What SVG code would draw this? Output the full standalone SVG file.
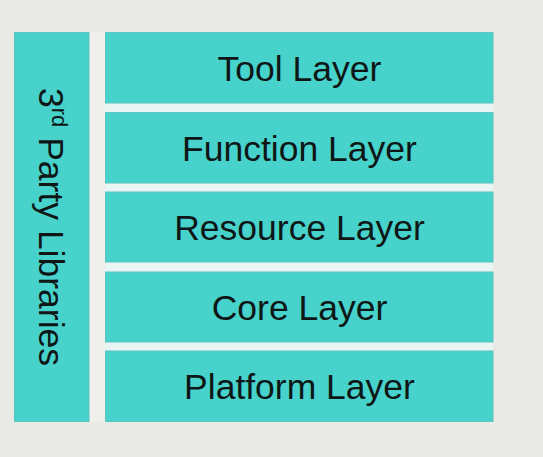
<svg xmlns="http://www.w3.org/2000/svg" width="543" height="457" viewBox="0 0 543 457">
  <style>
    .box { fill: #47d2cb; stroke: #5cc4be; stroke-width: 1; }
    .lbl { font-family: "Liberation Sans", Arial, sans-serif; font-size: 35.5px; fill: #0e1616; text-anchor: middle; }
  </style>
  <rect x="0" y="0" width="543" height="457" fill="#e9e9e5"/>
  <rect x="89" y="32" width="16" height="390" fill="#efefec"/>
  <rect x="105" y="32" width="388" height="390" fill="#e8f5f3"/>

  <g id="third-party">
    <rect class="box" x="14.5" y="32.5" width="74.5" height="389"/>
    <text class="lbl" transform="translate(39,227) rotate(90)">3<tspan font-size="22" dy="-13">rd</tspan><tspan dy="13"> Party Libraries</tspan></text>
  </g>

  <g id="tool-layer">
    <rect class="box" x="105.5" y="32.5" width="387.5" height="70.5"/>
    <text class="lbl" x="299.5" y="80.5">Tool Layer</text>
  </g>
  <g id="function-layer">
    <rect class="box" x="105.5" y="112.5" width="387.5" height="70.5"/>
    <text class="lbl" x="299.5" y="160.5">Function Layer</text>
  </g>
  <g id="resource-layer">
    <rect class="box" x="105.5" y="192" width="387.5" height="70"/>
    <text class="lbl" x="299.5" y="239.5">Resource Layer</text>
  </g>
  <g id="core-layer">
    <rect class="box" x="105.5" y="272" width="387.5" height="70"/>
    <text class="lbl" x="299.5" y="319.5">Core Layer</text>
  </g>
  <g id="platform-layer">
    <rect class="box" x="105.5" y="351" width="387.5" height="70.5"/>
    <text class="lbl" x="299.5" y="398.5">Platform Layer</text>
  </g>
</svg>
